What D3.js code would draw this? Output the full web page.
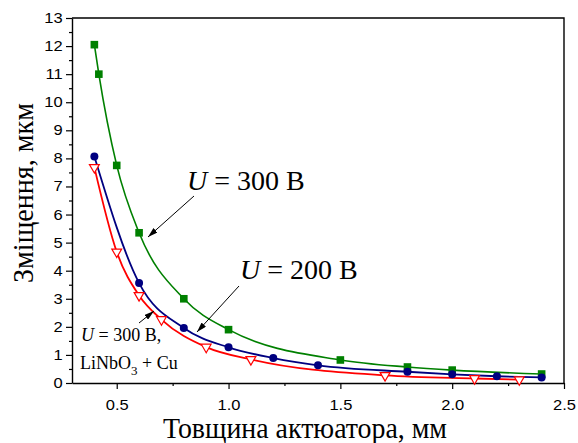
<!DOCTYPE html>
<html><head><meta charset="utf-8">
<script src="https://cdn.jsdelivr.net/npm/d3@7"></script>
<style>body{margin:0;background:#fff}svg{display:block}</style>
</head><body>
<svg id="c" width="578" height="443"></svg>
<script>
const greenX = [0.4, 0.42, 0.5, 0.6, 0.8, 1.0, 1.5, 1.8, 2.0, 2.4];
const greenY = [12.05, 11.0, 7.75, 5.35, 3.0, 1.9, 0.82, 0.57, 0.46, 0.32];
const blueX = [0.4, 0.6, 0.8, 1.0, 1.2, 1.4, 1.8, 2.0, 2.2, 2.4];
const blueY = [8.07, 3.56, 1.96, 1.27, 0.89, 0.63, 0.4, 0.31, 0.24, 0.2];
const redX = [0.4, 0.5, 0.6, 0.7, 0.9, 1.1, 1.7, 2.1, 2.3];
const redY = [7.68, 4.67, 3.12, 2.26, 1.28, 0.84, 0.27, 0.16, 0.12];
const xTicks = [0.5, 1.0, 1.5, 2.0, 2.5];
const xMinor = [0.75, 1.25, 1.75, 2.25];
const yTicks = [0,1,2,3,4,5,6,7,8,9,10,11,12,13];
const yMinor = [0.5,1.5,2.5,3.5,4.5,5.5,6.5,7.5,8.5,9.5,10.5,11.5,12.5];

const SERIF = "Liberation Serif";
const SANS = "Liberation Sans";
const svg = d3.select("#c");
const L = 72, R = 564, T = 18, B = 383;
const x = d3.scaleLinear().domain([0.3, 2.5]).range([L, R]);
const y = d3.scaleLinear().domain([0, 13]).range([B, T]);
const SX = 1.18;

svg.append("g").attr("transform", `translate(0,${B})`)
  .call(d3.axisBottom(x).tickValues(xMinor).tickSize(3).tickFormat(""))
  .call(g => g.select(".domain").remove())
  .selectAll("line").attr("stroke", "#000").attr("stroke-width", 1.2);
svg.append("g").attr("transform", `translate(${L},0)`)
  .call(d3.axisLeft(y).tickValues(yMinor).tickSize(3).tickFormat(""))
  .call(g => g.select(".domain").remove())
  .selectAll("line").attr("stroke", "#000").attr("stroke-width", 1.2);

const gx = svg.append("g").attr("transform", `translate(0,${B})`)
  .call(d3.axisBottom(x).tickValues(xTicks).tickSize(6).tickSizeOuter(0).tickPadding(11).tickFormat(d3.format(".1f")));
const gy = svg.append("g").attr("transform", `translate(${L},0)`)
  .call(d3.axisLeft(y).tickValues(yTicks).tickSize(6).tickSizeOuter(0).tickPadding(3).tickFormat(d3.format("d")));
[gx, gy].forEach(g => {
  g.attr("font-family", SANS).attr("font-size", 14);
  g.select(".domain").attr("stroke", "#000").attr("stroke-width", 1.4);
  g.selectAll(".tick line").attr("stroke", "#000").attr("stroke-width", 1.2);
  g.selectAll(".tick text").attr("fill", "#000").attr("transform", `scale(${SX},1)`);
});
gy.selectAll(".tick text").attr("x", -8);

svg.append("path").attr("d", `M${L},${T}H${R}V${B}`).attr("fill", "none").attr("stroke", "#000").attr("stroke-width", 1.4);

const line = d3.line().x(d => x(d[0])).y(d => y(d[1])).curve(d3.curveMonotoneX);
const gData = greenX.map((v, i) => [v, greenY[i]]);
const bData = blueX.map((v, i) => [v, blueY[i]]);
const rData = redX.map((v, i) => [v, redY[i]]);

svg.append("path").datum(gData).attr("d", line).attr("fill", "none").attr("stroke", "#008000").attr("stroke-width", 1.6);
svg.append("path").datum(bData).attr("d", line).attr("fill", "none").attr("stroke", "#000080").attr("stroke-width", 1.8);
svg.append("path").datum(rData).attr("d", line).attr("fill", "none").attr("stroke", "#ff0000").attr("stroke-width", 1.8);

svg.append("g").selectAll("rect").data(gData).join("rect")
  .attr("x", d => x(d[0]) - 3.8).attr("y", d => y(d[1]) - 3.8).attr("width", 7.6).attr("height", 7.6)
  .attr("fill", "#008000");
svg.append("g").selectAll("circle").data(bData).join("circle")
  .attr("cx", d => x(d[0])).attr("cy", d => y(d[1])).attr("r", 4)
  .attr("fill", "#000080");
const tri = d3.symbol().type(d3.symbolTriangle).size(42);
svg.append("g").selectAll("path").data(rData).join("path")
  .attr("d", tri).attr("transform", d => `translate(${x(d[0])},${y(d[1])}) rotate(180)`)
  .attr("fill", "#fff").attr("stroke", "#ff0000").attr("stroke-width", 1.2);

const defs = svg.append("defs");
defs.append("marker").attr("id", "ah").attr("viewBox", "0 0 10 6").attr("refX", 10).attr("refY", 3)
  .attr("markerWidth", 10).attr("markerHeight", 6).attr("markerUnits", "userSpaceOnUse").attr("orient", "auto")
  .append("path").attr("d", "M0,0L10,3L0,6Z").attr("fill", "#000");
const arrows = [[194,196,148,237],[239,286,197,332],[139,323,154,311]];
arrows.forEach(a => svg.append("line").attr("x1", a[0]).attr("y1", a[1]).attr("x2", a[2]).attr("y2", a[3])
  .attr("stroke", "#000").attr("stroke-width", 1).attr("marker-end", "url(#ah)"));

function ulabel(tx, ty, size, rest) {
  const t = svg.append("text").attr("font-family", SERIF).attr("x", tx).attr("y", ty).attr("font-size", size).attr("fill", "#000");
  t.append("tspan").attr("font-style", "italic").text("U");
  t.append("tspan").text(rest);
  return t;
}
ulabel(187, 190, 28, " = 300 В");
ulabel(240, 279, 28, " = 200 В");
ulabel(81, 341, 18, " = 300 В,");
const t2 = svg.append("text").attr("font-family", SERIF).attr("x", 80).attr("y", 369).attr("font-size", 18).attr("fill", "#000");
t2.append("tspan").text("LiNbO");
t2.append("tspan").attr("dy", 6).attr("font-size", 13).text("3");
t2.append("tspan").attr("dy", -6).text(" + Cu");

svg.append("text").attr("font-family", SERIF).attr("x", 163).attr("y", 438).attr("font-size", 29)
  .attr("textLength", 284).attr("lengthAdjust", "spacingAndGlyphs").text("Товщина актюатора, мм");
svg.append("text").attr("font-family", SERIF).attr("transform", "translate(33,283) rotate(-90)")
  .attr("font-size", 30)
  .attr("textLength", 180).attr("lengthAdjust", "spacingAndGlyphs").text("Зміщення, мкм");
</script>
</body></html>
